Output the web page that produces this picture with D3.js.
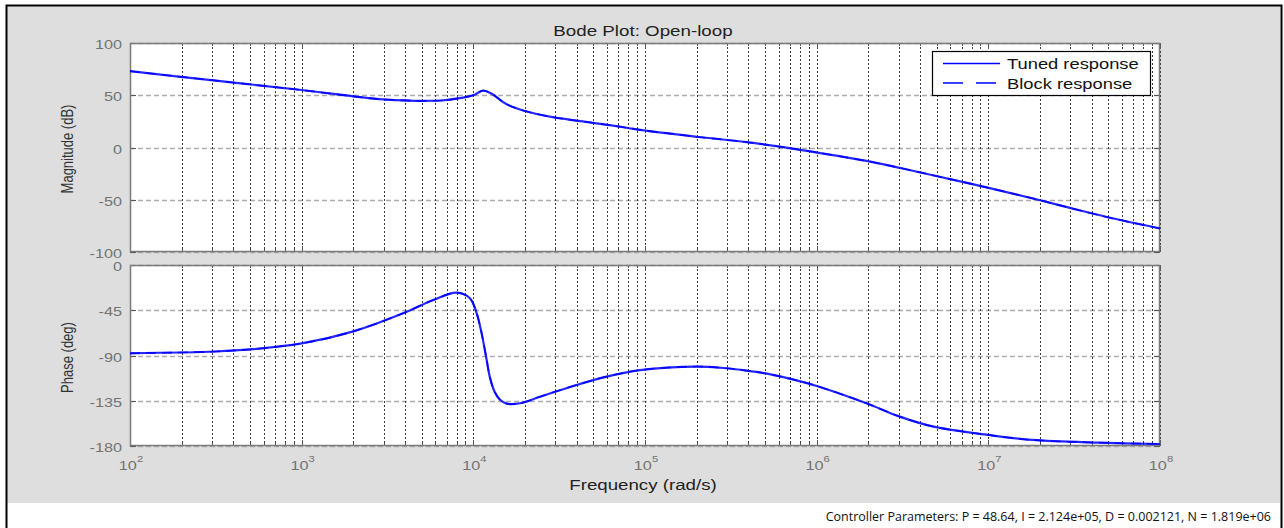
<!DOCTYPE html>
<html><head><meta charset="utf-8">
<script src="https://cdn.jsdelivr.net/npm/d3@7"></script>
<style>
html,body{margin:0;padding:0;background:#fff;}
svg{display:block;font-family:Arial,"Liberation Sans",sans-serif;}
</style></head>
<body>
<svg id="c" width="1284" height="528"></svg>
<script>
// ---- data ----
const magFreq = [100, 316, 1000, 3000, 6500, 8500, 10000, 11400, 12800, 15600, 19500, 29000, 41800, 65000, 93500, 200000, 391000, 800000, 1950000, 2990000, 4890000, 9770000, 19500000, 29900000, 48900000, 100000000];
const magTuned = [73, 64, 55, 46, 45, 47.5, 50, 54.5, 51.4, 41.5, 35.4, 29, 25.2, 21, 16.9, 10.3, 5.1, -2.2, -12.8, -19.2, -27, -38.2, -50, -57.8, -66.5, -77.5];
const magBlock = magTuned.slice();
const phFreq = [100, 316, 500, 1000, 2000, 3900, 5850, 8000, 9550, 10460, 11180, 11960, 12500, 13300, 14300, 15630, 18700, 24450, 38200, 59800, 93500, 200000, 299000, 391000, 522000, 640000, 1000000, 1950000, 3050000, 4800000, 10000000, 18000000, 45000000, 100000000];
const phTuned = [-87.8, -86, -84, -78, -66, -48, -34.8, -27.5, -33, -48, -68, -94.5, -112, -126, -134, -137.8, -137.5, -131, -120.3, -111, -104.5, -101, -102.7, -105, -108.2, -111.5, -120.3, -137.5, -150.8, -160.8, -169, -174, -176.7, -178];
const phBlock = phTuned.slice();
const magTicks = [100, 50, 0, -50, -100];
const phTicks = [0, -45, -90, -135, -180];
const decadeExps = [2, 3, 4, 5, 6, 7, 8];
const seriesNames = ["Tuned response", "Block response"];
const titleText = "Bode Plot: Open-loop";
const xLabelText = "Frequency  (rad/s)";
const magLabelText = "Magnitude (dB)";
const phLabelText = "Phase (deg)";
const footerText = "Controller Parameters: P = 48.64, I = 2.124e+05, D = 0.002121, N = 1.819e+06";

// ---- layout ----
const svg = d3.select("#c");
const L = 130, R = 1160;
const magTop = 43, magBot = 252, phTop = 265, phBot = 446;
const x = d3.scaleLog().domain([1e2, 1e8]).range([L, R]);
const yM = d3.scaleLinear().domain([-100, 100]).range([magBot, magTop]);
const yP = d3.scaleLinear().domain([-180, 0]).range([phBot, phTop]);
const blue = "#0000ff";
const SX = 1.28; // horizontal text stretch seen in the reference

function stext(parent, px, py, str, size, anchor, fill, sx) {
  return parent.append("text")
    .attr("transform", `translate(${px},${py}) scale(${sx || SX},1)`)
    .attr("text-anchor", anchor || "start").attr("font-size", size)
    .attr("fill", fill || "#222").text(str);
}

// background
svg.append("rect").attr("x", 0).attr("y", 0).attr("width", 1284).attr("height", 528).attr("fill", "#fff");
svg.append("rect").attr("x", 7).attr("y", 6).attr("width", 1273).attr("height", 497).attr("fill", "#dedede");
// outer border
svg.append("path").attr("d", "M6.5,540 V5.5 H1281.5 V540").attr("fill", "none").attr("stroke", "#000").attr("stroke-width", 2);

// minor + major frequency values
const gridFreqs = [];
decadeExps.forEach(e => {
  if (e === 8) { gridFreqs.push(1e8); return; }
  for (let k = 1; k <= 9; k++) gridFreqs.push(k * Math.pow(10, e));
});

function panel(top, bot, yScale, ticks) {
  const g = svg.append("g");
  g.append("rect").attr("x", L).attr("y", top).attr("width", R - L).attr("height", bot - top).attr("fill", "#fff");
  // horizontal grid
  g.selectAll("line.h").data(ticks).join("line")
    .attr("x1", L).attr("x2", R)
    .attr("y1", d => Math.round(yScale(d)) + 0.5).attr("y2", d => Math.round(yScale(d)) + 0.5)
    .attr("stroke", "#ababab").attr("stroke-width", 1.5).attr("stroke-dasharray", "5,3");
  // vertical grid
  g.selectAll("line.v").data(gridFreqs).join("line")
    .attr("x1", d => Math.round(x(d)) + 0.5).attr("x2", d => Math.round(x(d)) + 0.5)
    .attr("y1", top).attr("y2", bot)
    .attr("stroke", "#3a3a3a").attr("stroke-width", 1).attr("stroke-dasharray", "2,2");
  // ticks top & bottom
  gridFreqs.forEach(f => {
    const major = Math.abs(Math.log10(f) - Math.round(Math.log10(f))) < 1e-9;
    const len = major ? 6 : 3;
    const xx = Math.round(x(f)) + 0.5;
    g.append("line").attr("x1", xx).attr("x2", xx).attr("y1", top).attr("y2", top + len).attr("stroke", "#555");
    g.append("line").attr("x1", xx).attr("x2", xx).attr("y1", bot).attr("y2", bot - len).attr("stroke", "#555");
  });
  ticks.forEach(t => {
    const yy = Math.round(yScale(t)) + 0.5;
    g.append("line").attr("x1", L).attr("x2", L + 6).attr("y1", yy).attr("y2", yy).attr("stroke", "#555");
    g.append("line").attr("x1", R).attr("x2", R - 6).attr("y1", yy).attr("y2", yy).attr("stroke", "#555");
  });
  // frame
  g.append("rect").attr("x", L + 0.5).attr("y", top + 0.5).attr("width", R - L - 1).attr("height", bot - top - 1)
    .attr("fill", "none").attr("stroke", "#7a7a7a").attr("stroke-width", 1.5);
  // y tick labels
  ticks.forEach(t => stext(g, 122, yScale(t) + 6, String(t), 13, "end", "#737373", 1.25));
  return g;
}

panel(magTop, magBot, yM, magTicks);
panel(phTop, phBot, yP, phTicks);

// curves
function drawCurve(freqs, vals, yScale, dashed) {
  const line = d3.line().x((d, i) => x(freqs[i])).y(d => yScale(d)).curve(d3.curveCatmullRom.alpha(0.5));
  svg.append("path").datum(vals).attr("d", line)
    .attr("fill", "none").attr("stroke", blue).attr("stroke-width", dashed ? 1.6 : 2.2)
    .attr("stroke-opacity", dashed ? 0.9 : 0.85)
    .attr("stroke-dasharray", dashed ? "10,6" : null);
}
drawCurve(magFreq, magTuned, yM, false);
drawCurve(magFreq, magBlock, yM, true);
drawCurve(phFreq, phTuned, yP, false);
drawCurve(phFreq, phBlock, yP, true);

// x tick labels (10^n)
decadeExps.forEach(e => {
  const t = svg.append("text")
    .attr("transform", `translate(${x(Math.pow(10, e)) + 1},470) scale(1.25,1)`)
    .attr("text-anchor", "middle").attr("font-size", 13).attr("fill", "#737373");
  t.append("tspan").text("10");
  t.append("tspan").attr("font-size", 9).attr("dy", -8).text(e);
});

// title & labels
stext(svg, 643, 35.5, titleText, 14, "middle", "#222", 1.34);
stext(svg, 643, 490, xLabelText, 14.5, "middle", "#222", 1.29);
svg.append("text").attr("transform", `translate(73,149) scale(1.25,1) rotate(-90)`)
  .attr("text-anchor", "middle").attr("font-size", 13).attr("fill", "#333").text(magLabelText);
svg.append("text").attr("transform", `translate(73,357.5) scale(1.25,1) rotate(-90)`)
  .attr("text-anchor", "middle").attr("font-size", 13).attr("fill", "#333").text(phLabelText);

// legend
const lg = svg.append("g");
lg.append("rect").attr("x", 932.5).attr("y", 51.5).attr("width", 218).attr("height", 44)
  .attr("fill", "#fff").attr("stroke", "#000").attr("stroke-width", 1.2);
seriesNames.forEach((name, i) => {
  const yy = 63.5 + i * 19.5;
  lg.append("line").attr("x1", 943).attr("x2", 1000).attr("y1", yy).attr("y2", yy)
    .attr("stroke", blue).attr("stroke-width", 1.3).attr("stroke-dasharray", i === 1 ? "20,13" : null);
  stext(lg, 1007, yy + 5.5, name, 14, "start", "#111", 1.31);
});

// footer
svg.append("text").attr("x", 1271).attr("y", 521).attr("text-anchor", "end")
  .attr("font-size", 12.5).attr("font-family", "'Open Sans','DejaVu Sans',sans-serif").attr("fill", "#111").text(footerText);
</script>
</body></html>
